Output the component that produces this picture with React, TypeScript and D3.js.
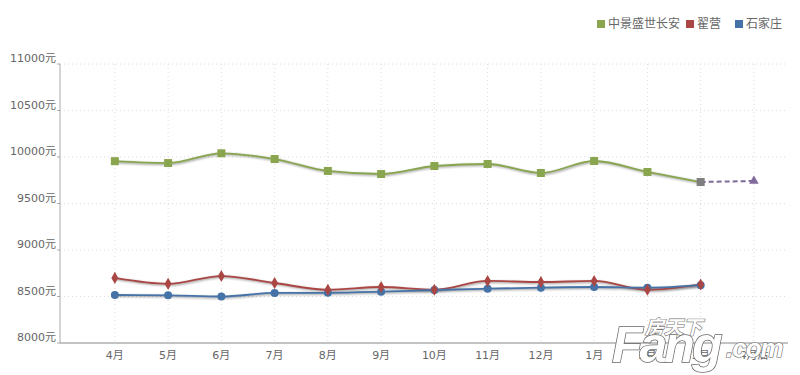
import * as d3 from "d3";

const WIDTH = 800;
const HEIGHT = 375;
const PLOT = { left: 60, right: 788, top: 64, bottom: 343 };

const categories = ["4月", "5月", "6月", "7月", "8月", "9月", "10月", "11月", "12月", "1月", "2月", "3月", "4月后"];
const yTicks = [8000, 8500, 9000, 9500, 10000, 10500, 11000];

const seriesNames = ["中景盛世长安", "翟营", "石家庄"];
const seriesColors = ["#89A54E", "#AA4643", "#4572A7"];
const forecastColor = "#80699B";

const zhongjing = [9955, 9935, 10040, 9978, 9850, 9817, 9903, 9925, 9828, 9957, 9839, 9731];
const zhaiying = [8700, 8636, 8720, 8645, 8572, 8602, 8572, 8667, 8656, 8667, 8572, 8630];
const shijiazhuang = [8516, 8513, 8500, 8538, 8540, 8552, 8570, 8584, 8595, 8602, 8595, 8622];
const forecast = [9731, 9742];

const FONT = "'DejaVu Sans', 'Noto Sans CJK SC', sans-serif";

export default function App() {
  const x = d3.scaleLinear().domain([-1.03, 12.64]).range([PLOT.left, PLOT.right]);
  const y = d3.scaleLinear().domain([8000, 11000]).range([PLOT.bottom, PLOT.top]);

  const line = d3
    .line<number>()
    .x((_, i) => x(i))
    .y((v) => y(v))
    .curve(d3.curveMonotoneX);

  const forecastLine = d3
    .line<number>()
    .x((_, i) => x(i + 11))
    .y((v) => y(v));

  const series = [zhongjing, zhaiying, shijiazhuang];

  const shadow = (d: string, key: string) => (
    <g key={key} transform="translate(1,1)" fill="none">
      <path d={d} stroke="#000" strokeOpacity={0.04} strokeWidth={6} />
      <path d={d} stroke="#000" strokeOpacity={0.08} strokeWidth={4} />
      <path d={d} stroke="#000" strokeOpacity={0.12} strokeWidth={2} />
    </g>
  );

  const diamond = d3.symbol().type(d3.symbolDiamond).size(42)() ?? "";
  const triangle = d3.symbol().type(d3.symbolTriangle).size(40)() ?? "";

  const legendItems = [
    { name: seriesNames[0], color: seriesColors[0], x: 597 },
    { name: seriesNames[1], color: seriesColors[1], x: 686 },
    { name: seriesNames[2], color: seriesColors[2], x: 735 }
  ];

  return (
    <svg width={WIDTH} height={HEIGHT} style={{ position: "absolute", left: 0, top: 0, background: "#fff" }}>
      {/* grid */}
      {yTicks.slice(1).map((t) => (
        <line
          key={`gy${t}`}
          x1={PLOT.left}
          x2={PLOT.right}
          y1={y(t)}
          y2={y(t)}
          stroke="#dcdcdc"
          strokeDasharray="1 3"
        />
      ))}
      {categories.map((c, i) => (
        <line
          key={`gx${c}`}
          x1={x(i)}
          x2={x(i)}
          y1={PLOT.top}
          y2={PLOT.bottom}
          stroke="#dcdcdc"
          strokeDasharray="1 3"
        />
      ))}

      {/* axes */}
      <line x1={PLOT.left} x2={PLOT.left} y1={PLOT.top} y2={PLOT.bottom} stroke="#aaa" />
      <line x1={PLOT.left} x2={PLOT.right} y1={PLOT.bottom} y2={PLOT.bottom} stroke="#888" />
      {yTicks.map((t) => (
        <line key={`ty${t}`} x1={PLOT.left - 3} x2={PLOT.left} y1={y(t)} y2={y(t)} stroke="#aaa" />
      ))}
      {yTicks.map((t) => (
        <text
          key={`ly${t}`}
          x={PLOT.left - 4}
          y={y(t) - 2}
          textAnchor="end"
          fontSize={11}
          fill="#666"
          fontFamily={FONT}
        >
          {`${t}元`}
        </text>
      ))}
      {categories.map((c, i) => (
        <text
          key={`lx${c}`}
          x={x(i)}
          y={PLOT.bottom + 16}
          textAnchor="middle"
          fontSize={11}
          fill="#666"
          fontFamily={FONT}
        >
          {c}
        </text>
      ))}

      {/* lines */}
      {series.map((s, i) => shadow(line(s) ?? "", `sh${i}`))}
      {series.map((s, i) => (
        <path key={`ln${i}`} d={line(s) ?? ""} fill="none" stroke={seriesColors[i]} strokeWidth={1.8} />
      ))}
      <path
        d={forecastLine(forecast) ?? ""}
        fill="none"
        stroke={forecastColor}
        strokeWidth={2}
        strokeDasharray="5 3"
      />

      {/* markers */}
      {zhongjing.map((v, i) => (
        <rect
          key={`m0${i}`}
          x={x(i) - 4}
          y={y(v) - 4}
          width={8}
          height={8}
          fill={i === zhongjing.length - 1 ? "#7f7f7f" : seriesColors[0]}
        />
      ))}
      {shijiazhuang.map((v, i) => (
        <circle key={`m2${i}`} cx={x(i)} cy={y(v)} r={4} fill={seriesColors[2]} />
      ))}
      {zhaiying.map((v, i) => (
        <path key={`m1${i}`} d={diamond} transform={`translate(${x(i)},${y(v)})`} fill={seriesColors[1]} />
      ))}
      <path
        d={triangle}
        transform={`translate(${x(12)},${y(forecast[1])})`}
        fill={forecastColor}
      />

      {/* legend */}
      {legendItems.map((item) => (
        <g key={item.name}>
          <rect x={item.x} y={20} width={8} height={8} fill={item.color} />
          <text x={item.x + 11} y={28} fontSize={12} fill="#666" fontFamily={FONT}>
            {item.name}
          </text>
        </g>
      ))}

      {/* watermark */}
      <g fontFamily="'Liberation Sans', Arial, sans-serif" fontWeight="bold" fontStyle="italic">
        <text
          x={645}
          y={334}
          fontSize={19}
          fontFamily="'Noto Sans CJK SC', sans-serif"
          fill="#fff"
          stroke="#777"
          strokeWidth={1.2}
          paintOrder="stroke"
        >
          房天下
        </text>
        <text
          x={612}
          y={362}
          fontSize={50}
          fill="#fff"
          stroke="#666"
          strokeWidth={1.5}
          paintOrder="stroke"
          letterSpacing={-3}
        >
          Fang
        </text>
        <text
          x={726}
          y={357}
          fontSize={26}
          fill="#fff"
          stroke="#666"
          strokeWidth={1.2}
          paintOrder="stroke"
          letterSpacing={-1}
        >
          .com
        </text>
      </g>
    </svg>
  );
}
